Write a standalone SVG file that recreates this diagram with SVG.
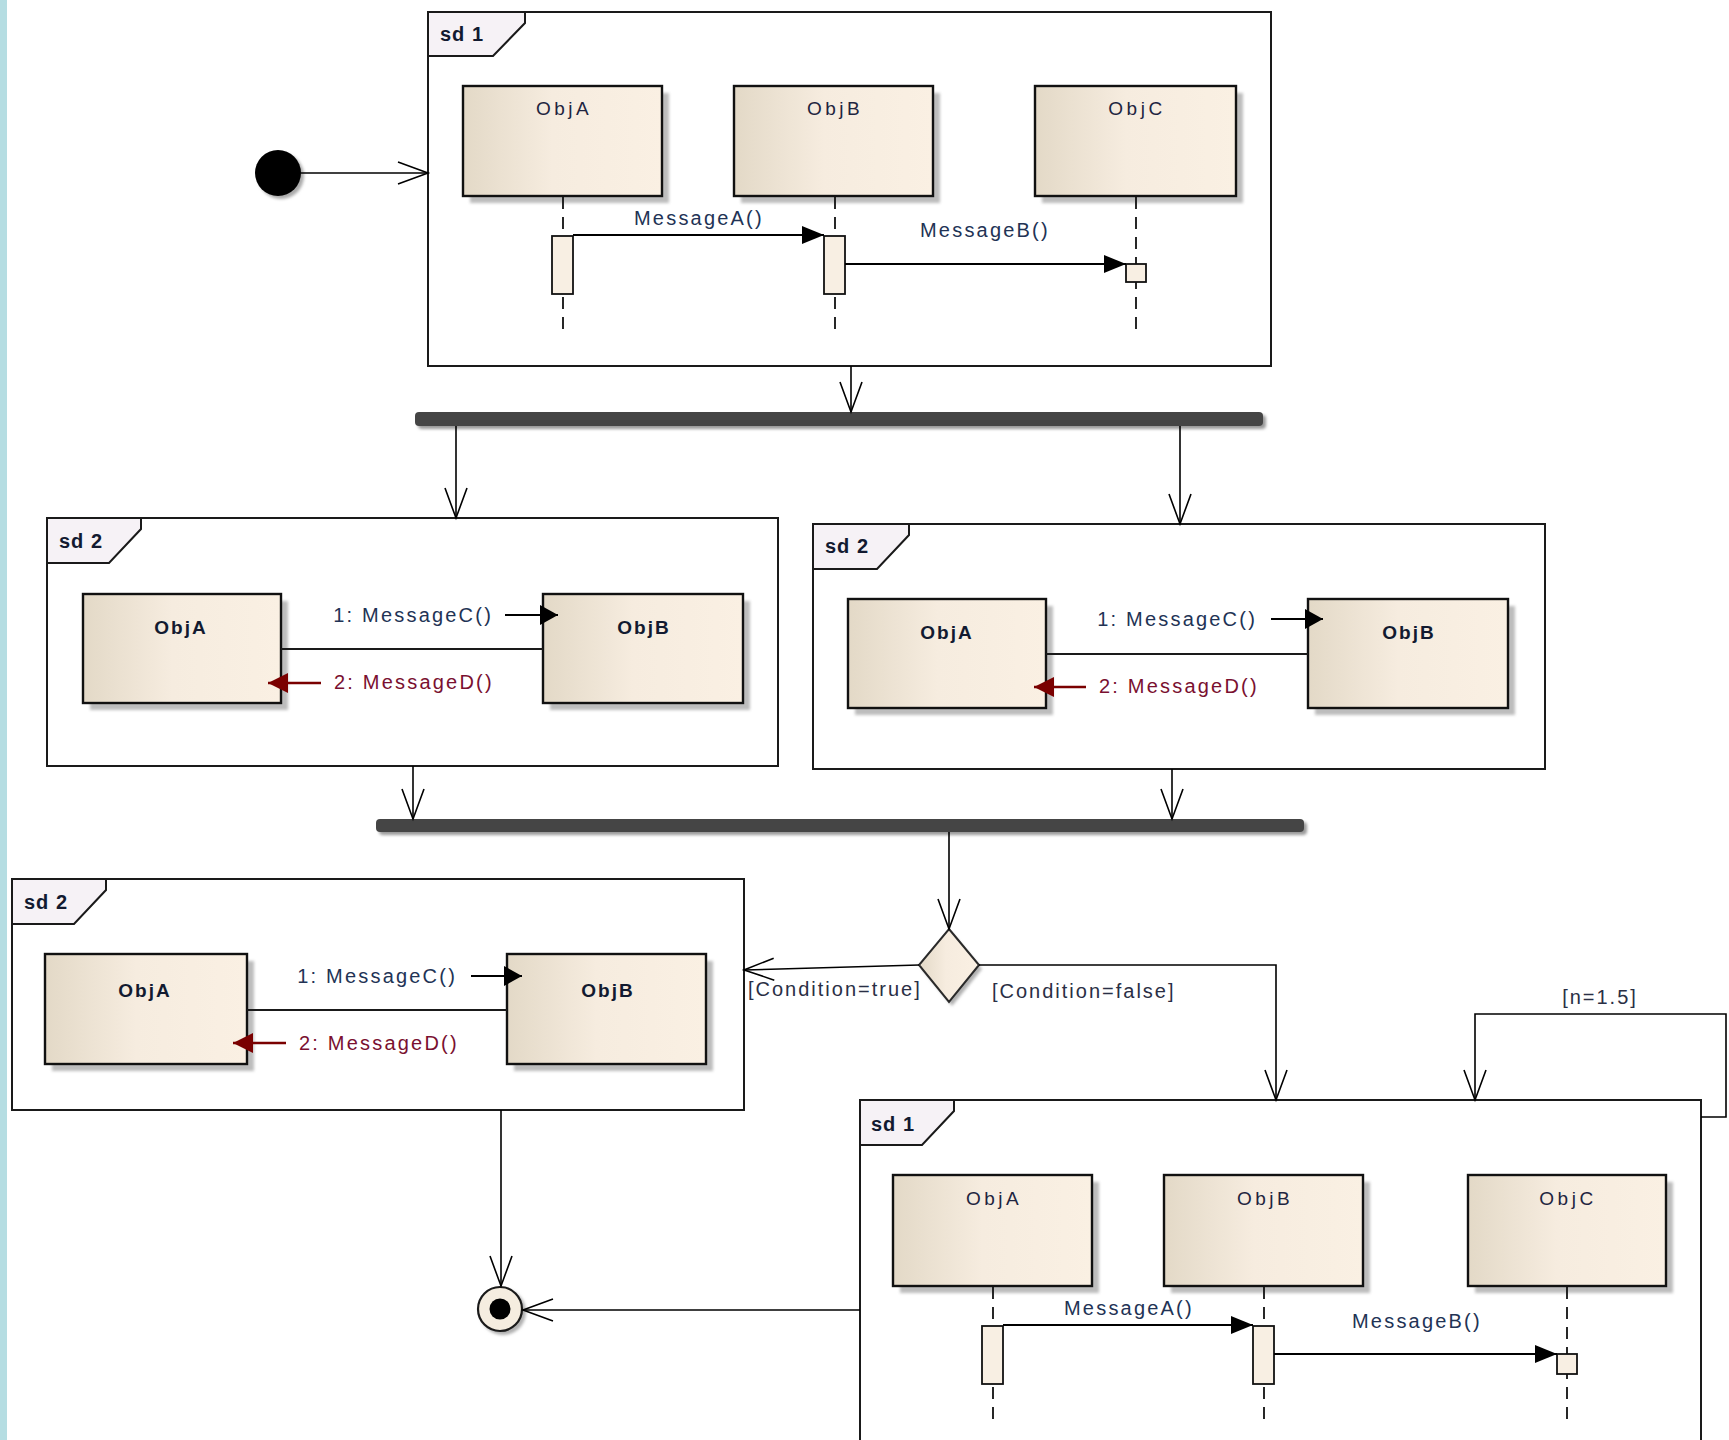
<svg xmlns="http://www.w3.org/2000/svg" width="1729" height="1440" viewBox="0 0 1729 1440">
  <defs>
    <linearGradient id="boxFill" x1="0" y1="0" x2="1" y2="0">
      <stop offset="0" stop-color="#e3d9c7"/>
      <stop offset="0.45" stop-color="#f6ecdf"/>
      <stop offset="1" stop-color="#faf0e3"/>
    </linearGradient>
    <filter id="soft" x="-10%" y="-10%" width="130%" height="130%">
      <feGaussianBlur stdDeviation="1.5"/>
    </filter>
    <marker id="open" markerUnits="userSpaceOnUse" markerWidth="34" markerHeight="28" refX="31" refY="12" orient="auto" overflow="visible">
      <path d="M1,1 L31,12 L1,23" fill="none" stroke="#000" stroke-width="1.6"/>
    </marker>
    <marker id="sync" markerUnits="userSpaceOnUse" markerWidth="24" markerHeight="20" refX="22" refY="9" orient="auto" overflow="visible">
      <path d="M0,0 L22,9 L0,18 Z" fill="#000"/>
    </marker>
    <marker id="call" markerUnits="userSpaceOnUse" markerWidth="20" markerHeight="22" refX="18" refY="10" orient="auto" overflow="visible">
      <path d="M0,0 L18,10 L0,20 Z" fill="#000"/>
    </marker>
    <marker id="ret" markerUnits="userSpaceOnUse" markerWidth="22" markerHeight="22" refX="20" refY="10" orient="auto" overflow="visible">
      <path d="M0,0 L20,10 L0,20 Z" fill="#7a0000"/>
    </marker>
  </defs>
  <style>
    .frame { fill: #ffffff; stroke: #1a1a1a; stroke-width: 2; }
    .tab { fill: #f6f2f6; stroke: #1a1a1a; stroke-width: 2; }
    .tabtxt { font-family: "Liberation Sans", Arial, sans-serif; font-weight: bold; font-size: 20px; fill: #121a30; letter-spacing: 1px; }
    .box { fill: url(#boxFill); stroke: #111; stroke-width: 2.4; }
    .shadow { fill: #bdbdbd; filter: url(#soft); }
    .objname { font-family: "Liberation Sans", Arial, sans-serif; font-size: 19px; fill: #1f2540; text-anchor: middle; letter-spacing: 3.5px; }
    .objbold { font-family: "Liberation Sans", Arial, sans-serif; font-size: 19px; font-weight: bold; fill: #121a30; text-anchor: middle; letter-spacing: 2px; }
    .msg { font-family: "Liberation Sans", Arial, sans-serif; font-size: 20px; fill: #223355; letter-spacing: 2.2px; }
    .ret { font-family: "Liberation Sans", Arial, sans-serif; font-size: 20px; fill: #7a1030; letter-spacing: 2.2px; }
    .guard { font-family: "Liberation Sans", Arial, sans-serif; font-size: 20px; fill: #2a2f45; letter-spacing: 2px; }
    .life { stroke: #111; stroke-width: 1.8; stroke-dasharray: 12 8; fill: none; }
    .act { fill: #f8efe3; stroke: #111; stroke-width: 1.8; }
    .mline { stroke: #000; stroke-width: 2; fill: none; }
    .link { stroke: #1a1a1a; stroke-width: 2; fill: none; }
    .edge { stroke: #000; stroke-width: 1.6; fill: none; }
    .bar { fill: #454545; }
    .barshadow { fill: #9a9a9a; filter: url(#soft); }
  </style>

  <!-- window edge strip -->
  <rect x="0" y="0" width="7" height="1440" fill="#b5dde2"/>

  <!-- initial node -->
  <g id="initial">
    <circle cx="281" cy="176" r="23" fill="#aaa" filter="url(#soft)"/>
    <circle cx="278" cy="173" r="23" fill="#000"/>
  </g>

  <!-- interaction occurrence: sd 1 (top) -->
  <g id="sd1-top">
    <rect class="frame" x="428" y="12" width="843" height="354"/>
    <path class="tab" d="M428,12 L525,12 L525,23 L493,56 L428,56 Z"/>
    <text class="tabtxt" x="440" y="41">sd 1</text>

    <rect class="shadow" x="470" y="93" width="199" height="110"/>
    <rect class="box" x="463" y="86" width="199" height="110"/>
    <text class="objname" x="564" y="115">ObjA</text>
    <rect class="shadow" x="741" y="93" width="199" height="110"/>
    <rect class="box" x="734" y="86" width="199" height="110"/>
    <text class="objname" x="835" y="115">ObjB</text>
    <rect class="shadow" x="1042" y="93" width="201" height="110"/>
    <rect class="box" x="1035" y="86" width="201" height="110"/>
    <text class="objname" x="1137" y="115">ObjC</text>

    <line class="life" x1="563" y1="197" x2="563" y2="331"/>
    <line class="life" x1="835" y1="197" x2="835" y2="331"/>
    <line class="life" x1="1136" y1="197" x2="1136" y2="331"/>

    <rect class="act" x="552" y="236" width="21" height="58"/>
    <rect class="act" x="824" y="236" width="21" height="58"/>
    <rect class="act" x="1126" y="264" width="20" height="18"/>

    <line class="mline" x1="573" y1="235" x2="824" y2="235" marker-end="url(#sync)"/>
    <text class="msg" x="634" y="225">MessageA()</text>
    <line class="mline" x1="845" y1="264" x2="1126" y2="264" marker-end="url(#sync)"/>
    <text class="msg" x="920" y="237">MessageB()</text>
  </g>

  <!-- fork bar -->
  <g id="fork">
    <rect class="barshadow" x="418" y="415" width="848" height="14" rx="4"/>
    <rect class="bar" x="415" y="412" width="848" height="14" rx="4"/>
  </g>

  <!-- interaction occurrence: sd 2 (left) -->
  <g id="sd2-left">
    <rect class="frame" x="47" y="518" width="731" height="248"/>
    <path class="tab" d="M47,518 L141,518 L141,529 L109,563 L47,563 Z"/>
    <text class="tabtxt" x="59" y="548">sd 2</text>

    <rect class="shadow" x="90" y="601" width="198" height="109"/>
    <rect class="box" x="83" y="594" width="198" height="109"/>
    <text class="objbold" x="181" y="634">ObjA</text>
    <rect class="shadow" x="550" y="601" width="200" height="109"/>
    <rect class="box" x="543" y="594" width="200" height="109"/>
    <text class="objbold" x="644" y="634">ObjB</text>

    <line class="link" x1="281" y1="649" x2="543" y2="649"/>
    <text class="msg" x="493" y="622" text-anchor="end">1: MessageC()</text>
    <line class="mline" x1="505" y1="615" x2="558" y2="615" marker-end="url(#call)"/>
    <line x1="321" y1="683" x2="268" y2="683" stroke="#7a0000" stroke-width="2.4" marker-end="url(#ret)"/>
    <text class="ret" x="334" y="689">2: MessageD()</text>
  </g>

  <!-- interaction occurrence: sd 2 (right) -->
  <g id="sd2-right">
    <rect class="frame" x="813" y="524" width="732" height="245"/>
    <path class="tab" d="M813,524 L909,524 L909,535 L877,569 L813,569 Z"/>
    <text class="tabtxt" x="825" y="553">sd 2</text>

    <rect class="shadow" x="855" y="606" width="198" height="109"/>
    <rect class="box" x="848" y="599" width="198" height="109"/>
    <text class="objbold" x="947" y="639">ObjA</text>
    <rect class="shadow" x="1315" y="606" width="200" height="109"/>
    <rect class="box" x="1308" y="599" width="200" height="109"/>
    <text class="objbold" x="1409" y="639">ObjB</text>

    <line class="link" x1="1046" y1="654" x2="1308" y2="654"/>
    <text class="msg" x="1257" y="626" text-anchor="end">1: MessageC()</text>
    <line class="mline" x1="1271" y1="619" x2="1323" y2="619" marker-end="url(#call)"/>
    <line x1="1086" y1="687" x2="1034" y2="687" stroke="#7a0000" stroke-width="2.4" marker-end="url(#ret)"/>
    <text class="ret" x="1099" y="693">2: MessageD()</text>
  </g>

  <!-- join bar -->
  <g id="join">
    <rect class="barshadow" x="379" y="822" width="928" height="13" rx="4"/>
    <rect class="bar" x="376" y="819" width="928" height="13" rx="4"/>
  </g>

  <!-- decision -->
  <g id="decision">
    <path d="M952,933 L982,969 L952,1006 L922,969 Z" fill="#b0b0b0" filter="url(#soft)"/>
    <path d="M949,929 L979,965 L949,1002 L919,965 Z" fill="url(#boxFill)" stroke="#2a2a2a" stroke-width="2"/>
  </g>

  <!-- interaction occurrence: sd 2 (bottom) -->
  <g id="sd2-bottom">
    <rect class="frame" x="12" y="879" width="732" height="231"/>
    <path class="tab" d="M12,879 L106,879 L106,890 L74,924 L12,924 Z"/>
    <text class="tabtxt" x="24" y="909">sd 2</text>

    <rect class="shadow" x="52" y="961" width="202" height="110"/>
    <rect class="box" x="45" y="954" width="202" height="110"/>
    <text class="objbold" x="145" y="997">ObjA</text>
    <rect class="shadow" x="514" y="961" width="199" height="110"/>
    <rect class="box" x="507" y="954" width="199" height="110"/>
    <text class="objbold" x="608" y="997">ObjB</text>

    <line class="link" x1="247" y1="1010" x2="507" y2="1010"/>
    <text class="msg" x="457" y="983" text-anchor="end">1: MessageC()</text>
    <line class="mline" x1="471" y1="976" x2="522" y2="976" marker-end="url(#call)"/>
    <line x1="286" y1="1043" x2="233" y2="1043" stroke="#7a0000" stroke-width="2.4" marker-end="url(#ret)"/>
    <text class="ret" x="299" y="1050">2: MessageD()</text>
  </g>

  <!-- interaction occurrence: sd 1 (bottom) -->
  <g id="sd1-bottom">
    <rect class="frame" x="860" y="1100" width="841" height="360"/>
    <path class="tab" d="M860,1100 L954,1100 L954,1111 L922,1145 L860,1145 Z"/>
    <text class="tabtxt" x="871" y="1131">sd 1</text>

    <rect class="shadow" x="900" y="1182" width="199" height="111"/>
    <rect class="box" x="893" y="1175" width="199" height="111"/>
    <text class="objname" x="994" y="1205">ObjA</text>
    <rect class="shadow" x="1171" y="1182" width="199" height="111"/>
    <rect class="box" x="1164" y="1175" width="199" height="111"/>
    <text class="objname" x="1265" y="1205">ObjB</text>
    <rect class="shadow" x="1475" y="1182" width="198" height="111"/>
    <rect class="box" x="1468" y="1175" width="198" height="111"/>
    <text class="objname" x="1568" y="1205">ObjC</text>

    <line class="life" x1="993" y1="1287" x2="993" y2="1424"/>
    <line class="life" x1="1264" y1="1287" x2="1264" y2="1424"/>
    <line class="life" x1="1567" y1="1287" x2="1567" y2="1424"/>

    <rect class="act" x="982" y="1326" width="21" height="58"/>
    <rect class="act" x="1253" y="1326" width="21" height="58"/>
    <rect class="act" x="1557" y="1354" width="20" height="20"/>

    <line class="mline" x1="1003" y1="1325" x2="1253" y2="1325" marker-end="url(#sync)"/>
    <text class="msg" x="1064" y="1315">MessageA()</text>
    <line class="mline" x1="1274" y1="1354" x2="1557" y2="1354" marker-end="url(#sync)"/>
    <text class="msg" x="1352" y="1328">MessageB()</text>
  </g>

  <!-- final node -->
  <g id="final">
    <circle cx="503" cy="1312" r="23" fill="#b0b0b0" filter="url(#soft)"/>
    <circle cx="500" cy="1309" r="22" fill="#f5ede0" stroke="#1a1a1a" stroke-width="2.2"/>
    <circle cx="500" cy="1309" r="10.5" fill="#000"/>
  </g>

  <!-- control flows -->
  <g id="connectors">
    <line class="edge" x1="301" y1="173" x2="428" y2="173" marker-end="url(#open)"/>
    <line class="edge" x1="851" y1="366" x2="851" y2="412" marker-end="url(#open)"/>
    <line class="edge" x1="456" y1="426" x2="456" y2="518" marker-end="url(#open)"/>
    <line class="edge" x1="1180" y1="426" x2="1180" y2="524" marker-end="url(#open)"/>
    <line class="edge" x1="413" y1="766" x2="413" y2="819" marker-end="url(#open)"/>
    <line class="edge" x1="1172" y1="769" x2="1172" y2="819" marker-end="url(#open)"/>
    <line class="edge" x1="949" y1="832" x2="949" y2="929" marker-end="url(#open)"/>
    <line class="edge" x1="919" y1="965" x2="744" y2="970" marker-end="url(#open)"/>
    <text class="guard" x="748" y="996">[Condition=true]</text>
    <path class="edge" d="M979,965 L1276,965 L1276,1100" marker-end="url(#open)"/>
    <text class="guard" x="992" y="998">[Condition=false]</text>
    <path class="edge" d="M1701,1117 L1726,1117 L1726,1014 L1475,1014 L1475,1100" marker-end="url(#open)"/>
    <text class="guard" x="1600" y="1004" text-anchor="middle">[n=1.5]</text>
    <line class="edge" x1="501" y1="1110" x2="501" y2="1286" marker-end="url(#open)"/>
    <line class="edge" x1="860" y1="1310" x2="523" y2="1310" marker-end="url(#open)"/>
  </g>
</svg>
